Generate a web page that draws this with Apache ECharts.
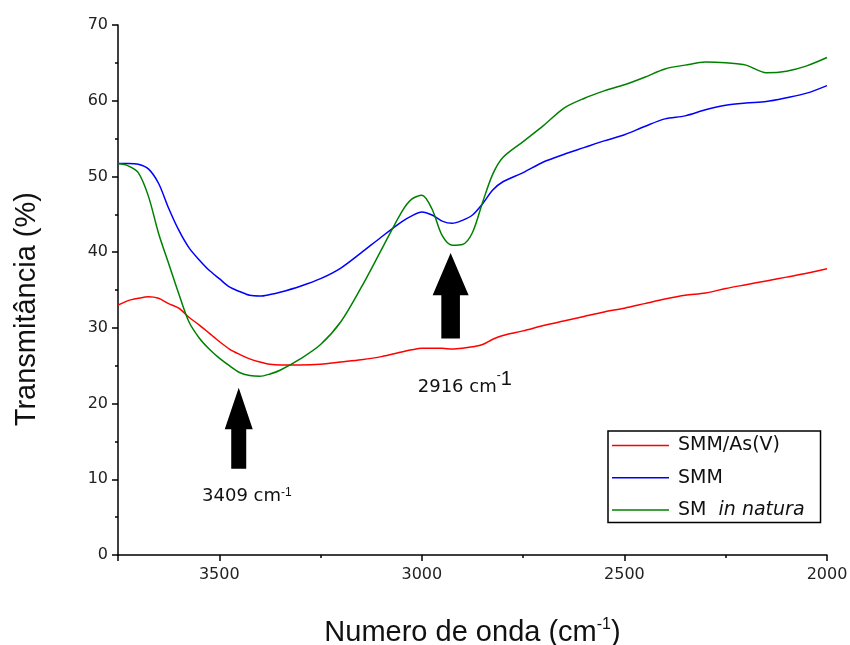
<!DOCTYPE html>
<html>
<head>
<meta charset="utf-8">
<script src="https://cdn.jsdelivr.net/npm/echarts@6/dist/echarts.min.js"></script>
<style>
  html, body { margin: 0; padding: 0; background: #fff; }
  #chart { width: 850px; height: 645px; }
</style>
</head>
<body>
<div id="chart"></div>
<script>
// FTIR spectra, transmittance (%) versus wavenumber (cm-1)
const wavenumber = [3750, 3725, 3700, 3675, 3650, 3625, 3600, 3575, 3550, 3525, 3500, 3475, 3450, 3425, 3400, 3375, 3350,
  3300, 3250, 3200, 3150, 3100, 3050, 3025, 3000, 2975, 2950, 2925, 2900, 2875, 2850, 2825, 2800,
  2750, 2700, 2650, 2600, 2550, 2500, 2450, 2400, 2350, 2300, 2250, 2200, 2150, 2100, 2050, 2000];

const smmAs = [33.0, 33.6, 33.9, 34.1, 33.9, 33.2, 32.6, 31.4, 30.4, 29.3, 28.2, 27.2, 26.5, 25.9, 25.5, 25.2, 25.1,
  25.1, 25.2, 25.5, 25.8, 26.2, 26.8, 27.1, 27.3, 27.3, 27.3, 27.2, 27.3, 27.5, 27.8, 28.5, 29.0,
  29.6, 30.3, 30.9, 31.5, 32.1, 32.6, 33.2, 33.8, 34.3, 34.6, 35.2, 35.7, 36.2, 36.7, 37.2, 37.8];

const smm = [51.7, 51.7, 51.6, 51.0, 49.1, 45.8, 42.9, 40.6, 39.0, 37.6, 36.5, 35.4, 34.8, 34.3, 34.2, 34.4, 34.7,
  35.5, 36.5, 37.9, 39.9, 42.0, 44.0, 44.8, 45.3, 44.9, 44.1, 43.8, 44.2, 44.9, 46.4, 48.2, 49.3,
  50.5, 51.9, 52.9, 53.8, 54.7, 55.5, 56.6, 57.6, 58.0, 58.8, 59.4, 59.7, 59.9, 60.4, 61.0, 62.0];

const smNatura = [51.7, 51.4, 50.5, 47.4, 42.5, 38.5, 34.5, 30.8, 28.7, 27.2, 26.0, 25.0, 24.1, 23.7, 23.6, 23.9, 24.4,
  25.9, 27.8, 30.8, 35.3, 40.3, 45.3, 47.0, 47.5, 45.7, 42.2, 40.9, 41.0, 42.6, 46.6, 50.3, 52.5,
  54.6, 56.7, 59.0, 60.3, 61.3, 62.1, 63.1, 64.2, 64.7, 65.1, 65.0, 64.7, 63.7, 63.9, 64.6, 65.7];

const seriesNames = ['SMM/As(V)', 'SMM', 'SM in natura'];
const xTicks = [2000, 2500, 3000, 3500];
const yTicks = [0, 10, 20, 30, 40, 50, 60, 70];

// Band annotations: arrow (wavenumber, tip / head base / tail in %) and caption anchor
const bandArrowX = [3452, 2929];
const bandArrowTip = [22.1, 39.9];
const bandArrowHead = [16.6, 34.3];
const bandArrowTail = [11.4, 28.6];
const bandLabelX = [3432, 2894];
const bandLabelY = [7.7, 22.2];

const zip = (xs, ys) => xs.map((x, i) => [x, ys[i]]);

const chart = echarts.init(document.getElementById('chart'), null, { renderer: 'canvas' });

const axisFont = 'DejaVu Sans';
const lineColors = ['#ff0000', '#0000ff', '#008000'];
const seriesData = [smmAs, smm, smNatura];

chart.setOption({
  animation: false,
  backgroundColor: '#ffffff',
  grid: { left: 118, right: 23, top: 25, bottom: 90, containLabel: false, outerBoundsMode: 'none' },
  xAxis: {
    type: 'value',
    inverse: true,
    min: 2000,
    max: 3750,
    interval: 500,
    name: 'Numero de onda (cm{sup|-1})',
    nameLocation: 'middle',
    nameGap: 62,
    nameTextStyle: {
      fontFamily: 'Liberation Sans', fontSize: 29, color: '#111',
      rich: { sup: { fontSize: 16, verticalAlign: 'top', lineHeight: 32, color: '#111' } }
    },
    axisLine: { show: true, lineStyle: { color: '#000', width: 1.5 } },
    axisTick: { show: true, length: 6, lineStyle: { color: '#000', width: 1.5 } },
    minorTick: { show: true, splitNumber: 2, length: 3, lineStyle: { color: '#000', width: 1.5 } },
    axisLabel: {
      margin: 12, fontFamily: axisFont, fontSize: 16, color: '#222',
      showMaxLabel: false,
      formatter: v => (xTicks.indexOf(v) >= 0 ? String(v) : '')
    },
    splitLine: { show: false }
  },
  yAxis: {
    type: 'value',
    min: 0,
    max: 70,
    interval: 10,
    axisLine: { show: true, lineStyle: { color: '#000', width: 1.5 } },
    axisTick: { show: true, length: 6, lineStyle: { color: '#000', width: 1.5 } },
    minorTick: { show: true, splitNumber: 2, length: 3, lineStyle: { color: '#000', width: 1.5 } },
    axisLabel: {
      margin: 10, fontFamily: axisFont, fontSize: 16, color: '#222',
      formatter: v => (yTicks.indexOf(v) >= 0 ? String(v) : '')
    },
    splitLine: { show: false }
  },
  legend: {
    orient: 'vertical',
    left: 608,
    top: 431,
    padding: [5, 16, 3, 4],
    itemWidth: 57,
    itemHeight: 18,
    itemGap: 13.2,
    borderColor: '#000',
    borderWidth: 1.5,
    backgroundColor: '#fff',
    icon: 'path://M0,9 L57,9 L57,10.5 L0,10.5 Z',
    data: seriesNames,
    formatter: name => (name === 'SM in natura' ? 'SM  {i|in natura}' : name),
    textStyle: {
      fontFamily: 'DejaVu Sans', fontSize: 19, color: '#111', padding: [0, 0, 0, 4],
      rich: { i: { fontFamily: 'DejaVu Sans', fontStyle: 'italic', fontSize: 19, color: '#111' } }
    }
  },
  series: seriesNames.map((name, k) => ({
    name,
    type: 'line',
    data: zip(wavenumber, seriesData[k]),
    symbol: 'none',
    smooth: 0.3,
    color: lineColors[k],
    lineStyle: { color: lineColors[k], width: 1.5 }
  }))
});

// Y-axis title
const yTitleCenter = chart.convertToPixel({ gridIndex: 0 }, [3750, 33]);

// Block arrows and captions positioned from data coordinates
const headHalf = [14, 18];
const shaftHalf = [7.5, 9.3];
const graphics = [];
bandArrowX.forEach((wn, i) => {
  const tip = chart.convertToPixel({ gridIndex: 0 }, [wn, bandArrowTip[i]]);
  const head = chart.convertToPixel({ gridIndex: 0 }, [wn, bandArrowHead[i]]);
  const tail = chart.convertToPixel({ gridIndex: 0 }, [wn, bandArrowTail[i]]);
  const cx = tip[0];
  graphics.push({
    type: 'polygon',
    shape: {
      points: [
        [cx, tip[1]],
        [cx + headHalf[i], head[1]],
        [cx + shaftHalf[i], head[1]],
        [cx + shaftHalf[i], tail[1]],
        [cx - shaftHalf[i], tail[1]],
        [cx - shaftHalf[i], head[1]],
        [cx - headHalf[i], head[1]]
      ]
    },
    style: { fill: '#000' }
  });
});

const lbl0 = chart.convertToPixel({ gridIndex: 0 }, [bandLabelX[0], bandLabelY[0]]);
const lbl1 = chart.convertToPixel({ gridIndex: 0 }, [bandLabelX[1], bandLabelY[1]]);
graphics.push({
  type: 'text',
  x: lbl0[0], y: lbl0[1],
  style: {
    text: '3409 cm{s|-1}',
    fontFamily: 'DejaVu Sans', fontSize: 18, fill: '#111',
    align: 'center', verticalAlign: 'middle',
    rich: { s: { fontSize: 12, verticalAlign: 'top', lineHeight: 21, fill: '#111' } }
  }
});
graphics.push({
  type: 'text',
  x: lbl1[0], y: lbl1[1],
  style: {
    text: '2916 cm{s|-}{b|1}',
    fontFamily: 'DejaVu Sans', fontSize: 18, fill: '#111',
    align: 'center', verticalAlign: 'middle',
    rich: {
      s: { fontSize: 12, verticalAlign: 'top', lineHeight: 22, fill: '#111' },
      b: { fontSize: 20, verticalAlign: 'top', lineHeight: 34, fill: '#111' }
    }
  }
});
graphics.push({
  type: 'text',
  x: 27, y: yTitleCenter[1] + 4,
  rotation: Math.PI / 2,
  style: {
    text: 'Transmitância (%)',
    fontFamily: 'Liberation Sans', fontSize: 29, fill: '#111',
    align: 'center', verticalAlign: 'middle'
  }
});

chart.setOption({ graphic: graphics });
</script>
</body>
</html>
